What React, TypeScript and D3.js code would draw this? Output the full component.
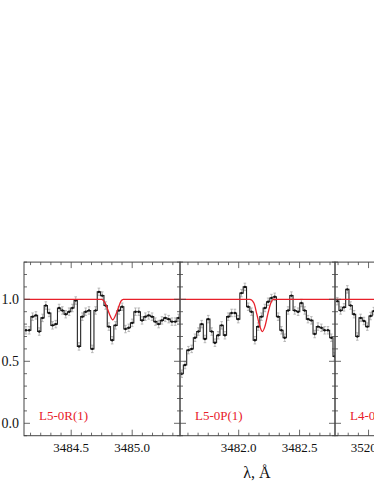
import React from 'react'
import * as d3 from 'd3'

// observed spectra, normalised flux
const waveR1 = [
  3484.129, 3484.156, 3484.183, 3484.211, 3484.238, 3484.265, 3484.292, 3484.319, 3484.347, 3484.374,
  3484.401, 3484.428, 3484.455, 3484.483, 3484.51, 3484.537, 3484.564, 3484.591, 3484.619, 3484.646,
  3484.673, 3484.7, 3484.727, 3484.755, 3484.782, 3484.809, 3484.836, 3484.863, 3484.891, 3484.918,
  3484.945, 3484.972, 3485.0, 3485.027, 3485.054, 3485.081, 3485.108, 3485.135, 3485.163, 3485.19,
  3485.217, 3485.244, 3485.271, 3485.299, 3485.326, 3485.353, 3485.38,
]
const fluxR1 = [
  0.75, 0.75, 0.86, 0.87, 0.74, 0.85, 0.95, 0.89, 0.79, 0.8,
  0.93, 0.91, 0.88, 0.9, 0.93, 0.99, 0.62, 0.86, 0.9, 0.91,
  0.6, 0.91, 1.06, 1.03, 0.95, 0.78, 0.67, 0.79, 0.91, 0.94,
  0.76, 0.77, 0.81, 0.9, 0.9, 0.83, 0.86, 0.87, 0.86, 0.82,
  0.8, 0.83, 0.85, 0.84, 0.82, 0.82, 0.85,
]
const waveP1 = [
  3481.532, 3481.559, 3481.587, 3481.614, 3481.641, 3481.669, 3481.696, 3481.723, 3481.75, 3481.778,
  3481.805, 3481.832, 3481.86, 3481.887, 3481.914, 3481.942, 3481.969, 3481.996, 3482.023, 3482.051,
  3482.078, 3482.105, 3482.133, 3482.16, 3482.187, 3482.215, 3482.242, 3482.269, 3482.296, 3482.324,
  3482.351, 3482.378, 3482.406, 3482.433, 3482.46, 3482.488, 3482.515, 3482.542, 3482.569, 3482.597,
  3482.624, 3482.651, 3482.679, 3482.706, 3482.733, 3482.761, 3482.788,
]
const fluxP1 = [
  0.4, 0.47, 0.59, 0.6, 0.69, 0.74, 0.8, 0.68, 0.84, 0.74,
  0.65, 0.71, 0.79, 0.71, 0.86, 0.89, 0.89, 0.84, 1.05, 1.1,
  0.94, 0.9, 0.67, 0.78, 0.86, 0.93, 0.98, 1.01, 1.02, 0.86,
  0.75, 0.69, 0.91, 1.03, 0.91, 0.9, 0.97, 0.91, 0.84, 0.83,
  0.72, 0.78, 0.77, 0.75, 0.75, 0.69, 0.54,
]
const waveL4 = [
  3519.744, 3519.771, 3519.799, 3519.826, 3519.853, 3519.881, 3519.908, 3519.935, 3519.962, 3519.99,
  3520.017, 3520.044,
]
const fluxL4 = [0.985, 0.91, 0.935, 1.08, 0.95, 0.88, 0.7, 0.85, 0.825, 0.78, 0.865, 0.905]
const fluxErr = 0.03

// fitted profiles (red)
const modelR1: [number, number][] = [
  [3484.113, 1], [3484.75, 1], [3484.769, 0.985], [3484.791, 0.94], [3484.814, 0.88], [3484.84, 0.835],
  [3484.867, 0.88], [3484.886, 0.93], [3484.908, 0.985], [3484.927, 1], [3485.392, 1],
]
const modelP1: [number, number][] = [
  [3481.518, 1], [3482.092, 1], [3482.125, 0.97], [3482.149, 0.88], [3482.174, 0.78], [3482.194, 0.74],
  [3482.215, 0.78], [3482.239, 0.88], [3482.264, 0.97], [3482.285, 1], [3482.791, 1],
]
const modelL4: [number, number][] = [[3519.725, 1], [3521.0, 1]]

const panelLabels = ['L5-0R(1)', 'L5-0P(1)', 'L4-0R(1)']
const panelDomains = [[3484.113, 3485.392], [3481.518, 3482.791], [3519.725, 3521.0]]
const majorTicks = [[3484.5, 3485.0], [3482.0, 3482.5], [3520.0, 3520.5]]
const yTicks = [0, 0.5, 1.0]

const font = '"Liberation Serif", "Times New Roman", serif'
const red = '#e8202a'

const App = () => {
  const top = 262.1
  const bottom = 435.7
  const y = d3.scaleLinear().domain([-0.1, 1.3]).range([bottom, top])
  const panelLeft = [24, 180, 335]
  const panelWidth = [156, 155, 155.5]
  const spectra = [
    { wave: waveR1, flux: fluxR1, model: modelR1 },
    { wave: waveP1, flux: fluxP1, model: modelP1 },
    { wave: waveL4, flux: fluxL4, model: modelL4 },
  ]
  const yMinor = d3.range(-1, 14).map((d) => d / 10)

  return (
    <svg
      width={374}
      height={484}
      style={{ position: 'absolute', left: 0, top: 0, display: 'block', overflow: 'hidden' }}
      fontFamily={font}
    >
      <rect width={374} height={484} fill="#fff" />
      {spectra.map((s, pi) => {
        const x0 = panelLeft[pi]
        const w = panelWidth[pi]
        const x = d3.scaleLinear().domain(panelDomains[pi]).range([x0, x0 + w])
        const pts = s.wave.map((wv, i) => [wv, s.flux[i]] as [number, number])
        const step = d3
          .line<[number, number]>()
          .x((d) => x(d[0]))
          .y((d) => y(d[1]))
          .curve(d3.curveStep)
        const model = d3
          .line<[number, number]>()
          .x((d) => x(d[0]))
          .y((d) => y(d[1]))
          .curve(d3.curveMonotoneX)
        const stepX = (majorTicks[pi][1] - majorTicks[pi][0]) / 6
        const xMinor = d3
          .range(-30, 30)
          .map((k) => majorTicks[pi][0] + k * stepX)
          .filter((v) => v > panelDomains[pi][0] && v < panelDomains[pi][1])
        const isMajor = (v: number) => majorTicks[pi].some((m) => Math.abs(m - v) < 1e-6)
        const clipId = `clip${pi}`
        return (
          <g key={pi}>
            <clipPath id={clipId}>
              <rect x={x0} y={top} width={w} height={bottom - top} />
            </clipPath>
            <g clipPath={`url(#${clipId})`}>
              {pts.map((d, i) => (
                <g key={i} stroke="#aaa" strokeWidth={0.8}>
                  <line x1={x(d[0])} x2={x(d[0])} y1={y(d[1] - fluxErr)} y2={y(d[1] + fluxErr)} />
                  <line x1={x(d[0]) - 1.3} x2={x(d[0]) + 1.3} y1={y(d[1] - fluxErr)} y2={y(d[1] - fluxErr)} />
                  <line x1={x(d[0]) - 1.3} x2={x(d[0]) + 1.3} y1={y(d[1] + fluxErr)} y2={y(d[1] + fluxErr)} />
                </g>
              ))}
              <path d={step(pts) ?? ''} fill="none" stroke="#222" strokeWidth={1.1} />
              {pts.map((d, i) => (
                <circle key={i} cx={x(d[0])} cy={y(d[1])} r={1.2} fill="#111" />
              ))}
              <path d={model(s.model) ?? ''} fill="none" stroke={red} strokeWidth={1.3} />
            </g>
            <rect x={x0} y={top} width={w} height={bottom - top} fill="none" stroke="#444" strokeWidth={1} />
            {xMinor.map((v, i) => {
              const len = isMajor(v) ? 6 : 3
              return (
                <g key={i} stroke="#444" strokeWidth={0.8}>
                  <line x1={x(v)} x2={x(v)} y1={bottom} y2={bottom - len} />
                  <line x1={x(v)} x2={x(v)} y1={top} y2={top + len} />
                </g>
              )
            })}
            {yMinor.map((v, i) => {
              const len = yTicks.some((t) => Math.abs(t - v) < 1e-6) ? 6 : 3
              return (
                <g key={i} stroke="#444" strokeWidth={0.8}>
                  <line x1={x0} x2={x0 + len} y1={y(v)} y2={y(v)} />
                  <line x1={x0 + w} x2={x0 + w - len} y1={y(v)} y2={y(v)} />
                </g>
              )
            })}
            {majorTicks[pi].map((v) => (
              <text key={v} x={x(v)} y={452} textAnchor="middle" fontSize={13} fill="#111">
                {v.toFixed(1)}
              </text>
            ))}
            <text x={x0 + 15} y={420} fontSize={13} fill={red}>
              {panelLabels[pi]}
            </text>
          </g>
        )
      })}
      {yTicks.map((v) => (
        <text key={v} x={19} y={y(v)} dy="0.35em" textAnchor="end" fontSize={14} fill="#111">
          {v.toFixed(1)}
        </text>
      ))}
      <text x={257} y={478} textAnchor="middle" fontSize={16} fill="#111">
        λ, Å
      </text>
    </svg>
  )
}

export default App
